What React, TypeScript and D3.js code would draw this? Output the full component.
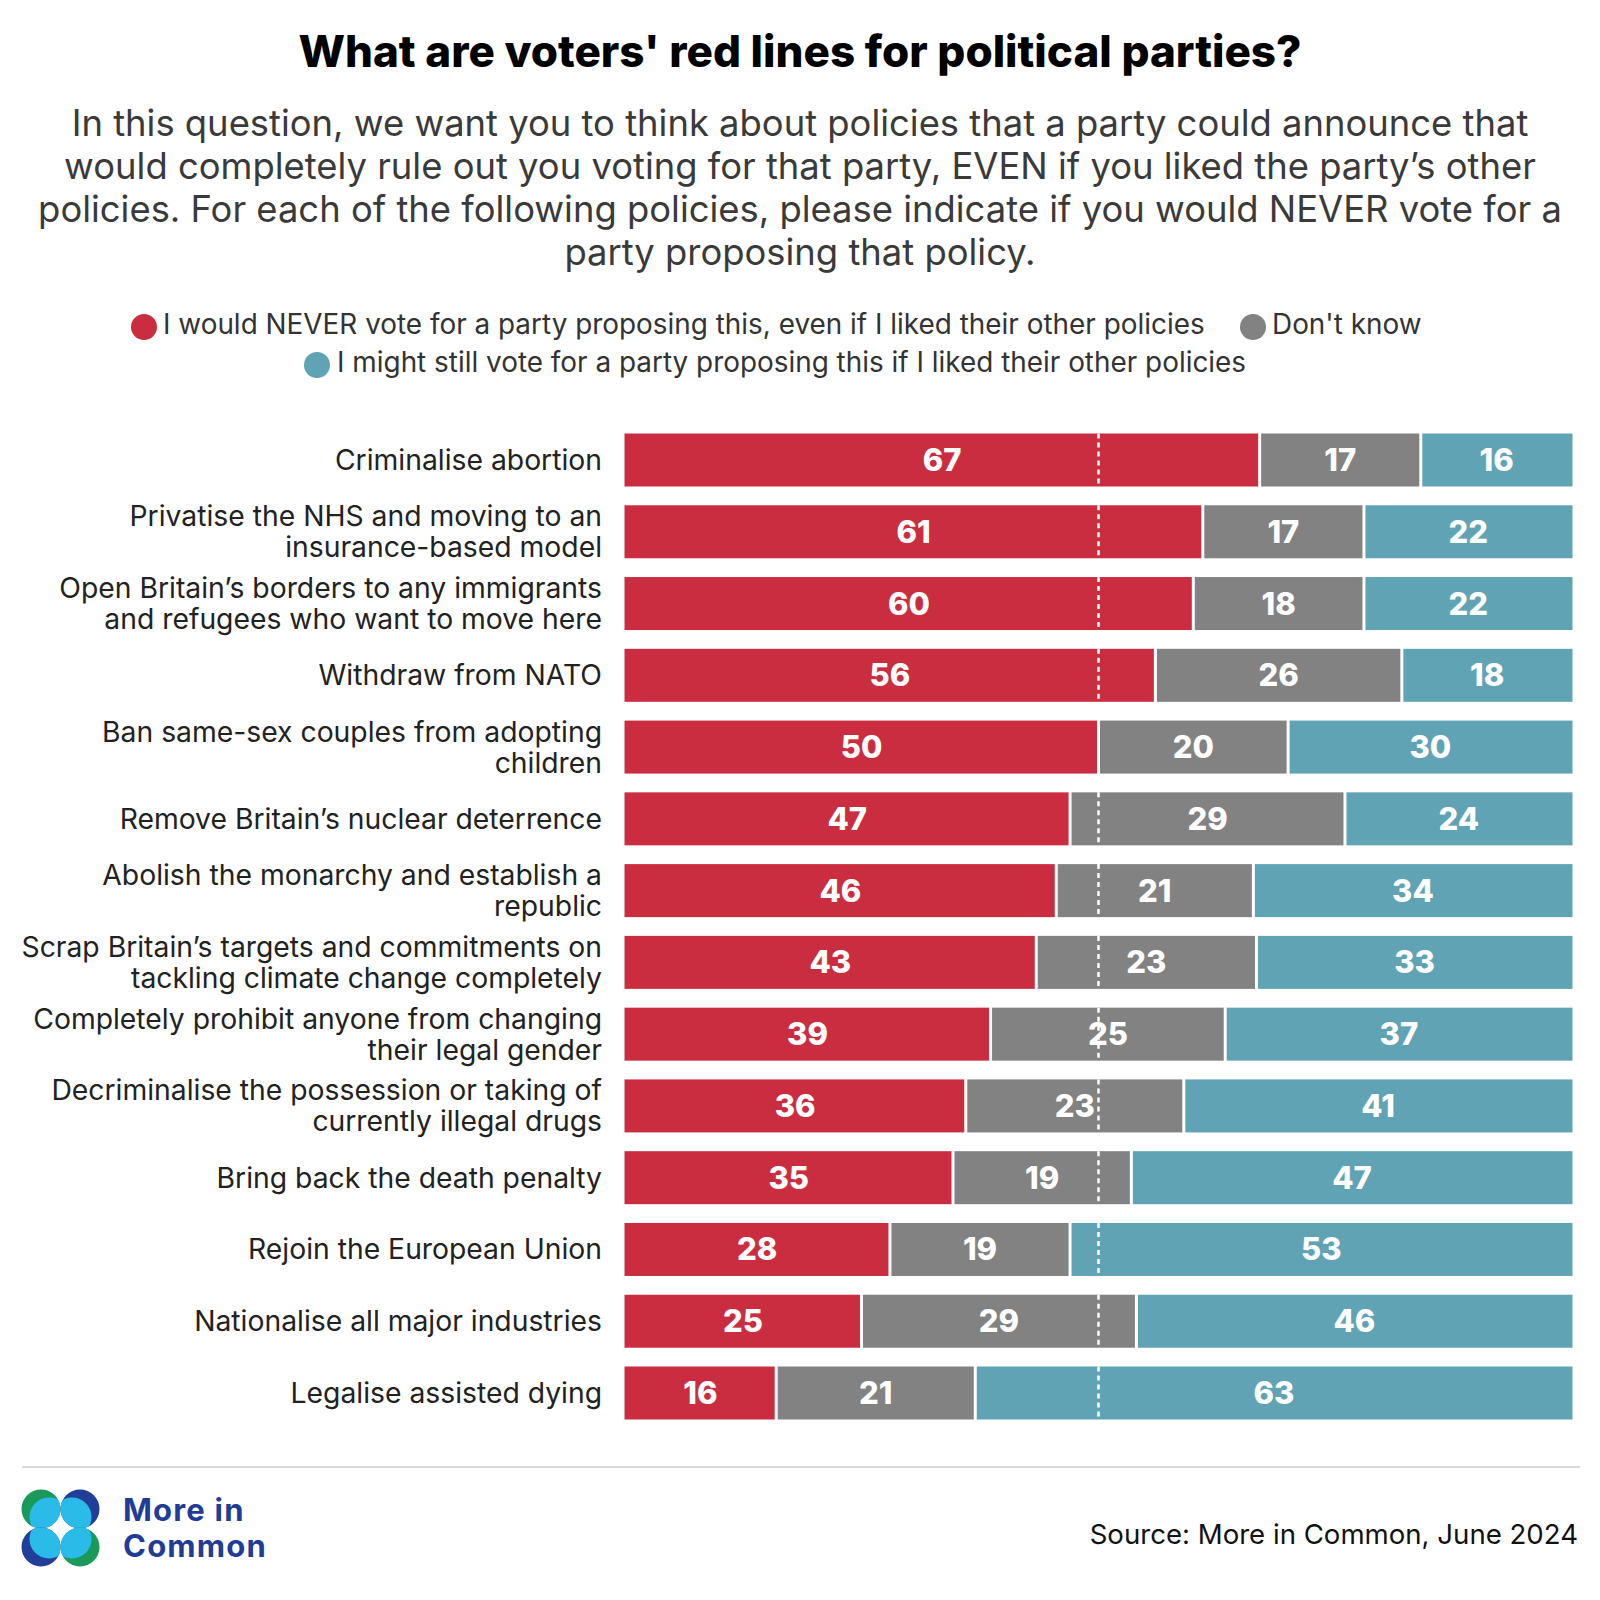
import React from "react";
import * as d3 from "d3";

const categories: string[][] = [
  ["Criminalise abortion"],
  ["Privatise the NHS and moving to an", "insurance-based model"],
  ["Open Britain’s borders to any immigrants", "and refugees who want to move here"],
  ["Withdraw from NATO"],
  ["Ban same-sex couples from adopting", "children"],
  ["Remove Britain’s nuclear deterrence"],
  ["Abolish the monarchy and establish a", "republic"],
  ["Scrap Britain’s targets and commitments on", "tackling climate change completely"],
  ["Completely prohibit anyone from changing", "their legal gender"],
  ["Decriminalise the possession or taking of", "currently illegal drugs"],
  ["Bring back the death penalty"],
  ["Rejoin the European Union"],
  ["Nationalise all major industries"],
  ["Legalise assisted dying"],
];

const never = [67, 61, 60, 56, 50, 47, 46, 43, 39, 36, 35, 28, 25, 16];
const dontKnow = [17, 17, 18, 26, 20, 29, 21, 23, 25, 23, 19, 19, 29, 21];
const mightVote = [16, 22, 22, 18, 30, 24, 34, 33, 37, 41, 47, 53, 46, 63];

const seriesNames = [
  "I would NEVER vote for a party proposing this, even if I liked their other policies",
  "Don't know",
  "I might still vote for a party proposing this if I liked their other policies",
];
const colors = ["#cb2d40", "#828282", "#60a3b5"];

const title = "What are voters' red lines for political parties?";
const subtitleLines = [
  "In this question, we want you to think about policies that a party could announce that",
  "would completely rule out you voting for that party, EVEN if you liked the party’s other",
  "policies. For each of the following policies, please indicate if you would NEVER vote for a",
  "party proposing that policy.",
];
const source = "Source: More in Common, June 2024";

const FONT = "Inter, 'Noto Sans', sans-serif";

export default function App() {
  const x = d3.scaleLinear().domain([0, 1]).range([624.5, 1572.5]);
  const ids = categories.map((_, i) => String(i));
  const y = d3.scalePoint<string>().domain(ids).range([460, 1393]);
  const barH = 53;
  const series = [never, dontKnow, mightVote];

  const rows = categories.map((cat, i) => {
    const vals = series.map((s) => s[i]);
    const total = d3.sum(vals);
    const cum = d3.cumsum(vals).map((v) => v / total);
    const starts = [0, ...cum.slice(0, -1)];
    return { cat, vals, cum, starts, cy: y(String(i))! };
  });

  const midX = x(0.5);

  return (
    <svg
      width={1600}
      height={1600}
      style={{ position: "absolute", left: 0, top: 0, background: "#fff" }}
      fontFamily={FONT}
    >
      <rect width={1600} height={1600} fill="#fff" />
      <text x={800} y={67} textAnchor="middle" fontSize={44} fontWeight={800} fill="#000">
        {title}
      </text>
      {subtitleLines.map((l, i) => (
        <text key={i} x={800} y={136 + i * 43} textAnchor="middle" fontSize={36.4} fill="#3a3a3a">
          {l}
        </text>
      ))}
      {/* legend */}
      <g fontSize={27.9} fill="#333">
        <circle cx={144} cy={327} r={13} fill={colors[0]} />
        <text x={163} y={334}>{seriesNames[0]}</text>
        <circle cx={1253} cy={327} r={13} fill={colors[1]} />
        <text x={1272} y={334}>{seriesNames[1]}</text>
        <circle cx={317} cy={365} r={13} fill={colors[2]} />
        <text x={337} y={372}>{seriesNames[2]}</text>
      </g>

      {rows.map((r, i) => (
        <g key={i}>
          {r.cat.length === 1 ? (
            <text x={602} y={r.cy + 10} textAnchor="end" fontSize={28.3} fill="#222">
              {r.cat[0]}
            </text>
          ) : (
            r.cat.map((t, j) => (
              <text key={j} x={602} y={r.cy - 5.5 + j * 31} textAnchor="end" fontSize={28.3} fill="#222">
                {t}
              </text>
            ))
          )}
          {r.vals.map((v, k) => {
            const x0 = x(r.starts[k]) + (k > 0 ? 1.5 : 0);
            const x1 = x(r.cum[k]) - (k < 2 ? 1.5 : 0);
            return (
              <rect key={k} x={x0} y={r.cy - barH / 2} width={x1 - x0} height={barH} fill={colors[k]} />
            );
          })}
          <line
            x1={midX}
            x2={midX}
            y1={r.cy - barH / 2}
            y2={r.cy + barH / 2}
            stroke="#fff"
            strokeWidth={2.5}
            strokeDasharray="5 4"
          />
          {r.vals.map((v, k) => (
            <text
              key={"t" + k}
              x={x((r.starts[k] + r.cum[k]) / 2)}
              y={r.cy + 11}
              textAnchor="middle"
              fontSize={31}
              fontWeight={800}
              fill="#fff"
            >
              {v}
            </text>
          ))}
        </g>
      ))}

      <line x1={22} x2={1580} y1={1467} y2={1467} stroke="#d9d9d9" strokeWidth={2} />

      {/* logo */}
      <defs>
        <clipPath id="c1"><circle cx={41} cy={1509} r={19.5} /></clipPath>
        <clipPath id="c2"><circle cx={80} cy={1509} r={19.5} /></clipPath>
        <clipPath id="c3"><circle cx={41} cy={1547} r={19.5} /></clipPath>
        <clipPath id="c4"><circle cx={80} cy={1547} r={19.5} /></clipPath>
      </defs>
      <circle cx={41} cy={1509} r={19.5} fill="#1a9a5a" />
      <circle cx={49} cy={1517} r={19.5} fill="#2bbbe8" clipPath="url(#c1)" />
      <circle cx={80} cy={1509} r={19.5} fill="#213f99" />
      <circle cx={72} cy={1517} r={19.5} fill="#2bbbe8" clipPath="url(#c2)" />
      <circle cx={41} cy={1547} r={19.5} fill="#213f99" />
      <circle cx={49} cy={1539} r={19.5} fill="#2bbbe8" clipPath="url(#c3)" />
      <circle cx={80} cy={1547} r={19.5} fill="#1a9a5a" />
      <circle cx={72} cy={1539} r={19.5} fill="#2bbbe8" clipPath="url(#c4)" />
      <text x={123} y={1521} fontSize={31} fontWeight={700} letterSpacing={1.2} fill="#1f3c96">More in</text>
      <text x={123} y={1557} fontSize={31} fontWeight={700} letterSpacing={1.2} fill="#1f3c96">Common</text>

      <text x={1578} y={1544} textAnchor="end" fontSize={27.6} fill="#111">
        {source}
      </text>
    </svg>
  );
}
